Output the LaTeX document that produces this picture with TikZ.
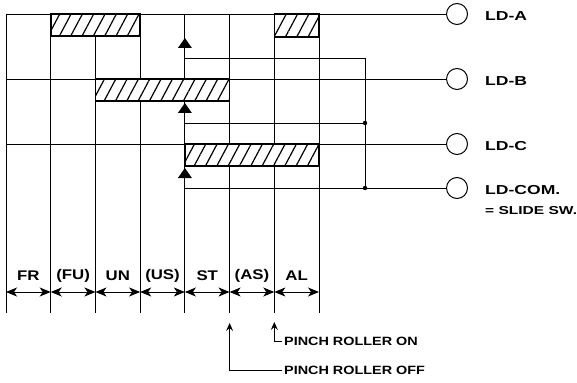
\documentclass[tikz,border=0pt]{standalone}
\usepackage{fontspec}
\newfontfamily\ldfont{Liberation Sans}[FakeStretch=1.35]
\newfontfamily\notefont{Liberation Sans}[FakeStretch=1.2]
\usetikzlibrary{arrows.meta,patterns.meta,calc}
\def\cw{44.72}
\tikzset{
  grid line/.style={line width=0.9pt},
  hatch bar/.style={fill=white, line width=1.6pt,
    postaction={pattern={Lines[angle=62,distance=10pt,line width=1.2pt]}}},
  ld lamp/.style={circle, draw, line width=1pt, minimum size=21pt, inner sep=0pt, fill=white},
  ld label/.style={anchor=west, inner sep=0pt, font=\ldfont\bfseries\fontsize{13}{13}\selectfont},
  zone label/.style={inner sep=0pt, font=\notefont\bfseries\fontsize{14}{14}\selectfont},
  note label/.style={anchor=west, inner sep=2pt, font=\notefont\bfseries\fontsize{12}{12}\selectfont},
  dim arrow/.style={line width=1pt, {Stealth[length=11pt,width=9pt,inset=3pt]}-{Stealth[length=11pt,width=9pt,inset=3pt]}},
  pinch arrow/.style={line width=1pt, -{Stealth[length=8pt,width=7pt,inset=3pt]}}
}
\begin{document}
\begin{tikzpicture}[x=1pt, y=-1pt]
  \useasboundingbox (0,0) rectangle (577,382);
  % column edges: top, dimension line, bottom
  \foreach \i in {0,...,7} {
    \coordinate (t\i) at ({6+\i*\cw},14);
    \coordinate (d\i) at ({6+\i*\cw},292);
    \coordinate (b\i) at ({6+\i*\cw},313);
  }
  % lamps on the right
  \node[ld lamp] (ldA) at (457,14) {};
  \node[ld lamp] (ldB) at (457,79) {};
  \node[ld lamp] (ldC) at (457,144) {};
  \node[ld lamp] (ldCOM) at (457,188) {};
  \node[ld label] (ldAlbl) at (485,16) {LD-A};
  \node[ld label] (ldBlbl) at (485,81) {LD-B};
  \node[ld label] (ldClbl) at (485,146) {LD-C};
  \node[ld label] (ldCOMlbl) at (485,190) {LD-COM.};
  \node[ld label, font=\ldfont\bfseries\fontsize{11.5}{11.5}\selectfont] (slideSw) at (485,211) {= SLIDE SW.};
  % row lines running into the lamps
  \draw[grid line] (t0) -- (ldA.west);
  \draw[grid line] (t0 |- ldB) -- (ldB.west);
  \draw[grid line] (t0 |- ldC) -- (ldC.west);
  % column edges
  \foreach \i in {0,...,7} \draw[grid line] (t\i) -- (b\i);
  % slide switch contacts from the ST edge
  \coordinate (jA) at (365,58);
  \coordinate (jB) at (365,123);
  \coordinate (jC) at (365,188);
  \draw[grid line] (t4 |- jA) -- (jA) -- (jC);
  \draw[grid line] (t4 |- jB) -- (jB);
  \draw[grid line] (t4 |- jC) -- (ldCOM.west);
  \foreach \j in {jB,jC} \fill (\j) circle (2.2pt);
  % hatched on-bars
  \draw[hatch bar] (t1) rectangle ($(t3)+(0,22)$);
  \draw[hatch bar] (t6) rectangle ($(t7)+(0,23)$);
  \draw[hatch bar] ($(t2)+(0,65)$) rectangle ($(t5)+(0,87)$);
  \draw[hatch bar] ($(t4)+(0,130)$) rectangle ($(t7)+(0,152)$);
  % wiper triangles on the ST edge
  \foreach \y in {38,103,168}
    \fill ({6+4*\cw},\y) -- ++(-7,10) -- ++(14,0) -- cycle;
  % mode zones
  \foreach \i [evaluate=\i as \j using int(\i+1)] in {0,...,6}
    \draw[dim arrow] (d\i) -- (d\j);
  \foreach \lbl [count=\i from 0] in {FR,{(FU)},UN,{(US)},ST,{(AS)},AL}
    \node[zone label] (z\i) at ({6+(\i+0.5)*\cw},276) {\lbl};
  % pinch roller marks
  \node[note label] (pinchOn) at (282,341) {PINCH ROLLER ON};
  \node[note label] (pinchOff) at (282,370) {PINCH ROLLER OFF};
  \draw[pinch arrow] (pinchOn.west) -| ($(b6)+(0,9)$);
  \draw[pinch arrow] (pinchOff.west) -| ($(b5)+(0,10)$);
\end{tikzpicture}
\end{document}
